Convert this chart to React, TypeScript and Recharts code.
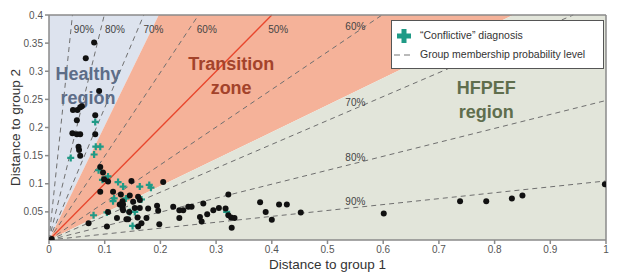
import {
  ComposedChart,
  Area,
  Scatter,
  XAxis,
  YAxis,
  CartesianGrid,
  ReferenceLine,
  Legend,
  Label,
} from 'recharts'

const xTicks = [0, 0.1, 0.2, 0.3, 0.4, 0.5, 0.6, 0.7, 0.8, 0.9, 1]
const yTicks = [0.05, 0.1, 0.15, 0.2, 0.25, 0.3, 0.35, 0.4]
const yMax = 0.4

// region boundaries (slope of line through origin)
const healthyEdge = 2.03
const hfpefEdge = 0.48

// probability level lines
const levels = ['60%', '70%', '80%', '90%']
const slopesBelow = [0.669, 0.425, 0.248, 0.105]
const slopesAbove = [1.49, 2.35, 4.03, 9.5]

const patients: [number, number][] = [
  [0.081, 0.351], [0.066, 0.323], [0.09, 0.265], [0.043, 0.231], [0.051, 0.231],
  [0.056, 0.236], [0.059, 0.238], [0.05, 0.213], [0.083, 0.222], [0.042, 0.19],
  [0.05, 0.188], [0.056, 0.188], [0.083, 0.188], [0.053, 0.166], [0.054, 0.16],
  [0.056, 0.15], [0.092, 0.13], [0.097, 0.12], [0.099, 0.108], [0.106, 0.104],
  [0.092, 0.086], [0.115, 0.086], [0.129, 0.081], [0.132, 0.069], [0.132, 0.057],
  [0.106, 0.05], [0.122, 0.039], [0.071, 0.03], [0.104, 0.024], [0.005, 0.002],
  [0.148, 0.105], [0.205, 0.103], [0.145, 0.079], [0.151, 0.068], [0.127, 0.063],
  [0.133, 0.063], [0.154, 0.057], [0.163, 0.057], [0.178, 0.056], [0.194, 0.061],
  [0.196, 0.052], [0.223, 0.059], [0.234, 0.053], [0.241, 0.053], [0.25, 0.059],
  [0.256, 0.059], [0.133, 0.053], [0.139, 0.037], [0.142, 0.037], [0.159, 0.04],
  [0.175, 0.039], [0.234, 0.039], [0.271, 0.041], [0.166, 0.03], [0.16, 0.024],
  [0.198, 0.028], [0.322, 0.081], [0.379, 0.067], [0.277, 0.065], [0.389, 0.05],
  [0.295, 0.053], [0.305, 0.057], [0.284, 0.046], [0.317, 0.056], [0.322, 0.044],
  [0.327, 0.04], [0.333, 0.039], [0.274, 0.033], [0.328, 0.022], [0.4, 0.036],
  [0.413, 0.063], [0.427, 0.063], [0.452, 0.049], [0.601, 0.047], [0.738, 0.069],
  [0.785, 0.069], [0.831, 0.074], [0.85, 0.079], [0.998, 0.099], [0.16, 0.077],
  [0.163, 0.071], [0.144, 0.05],
]

const conflictive: [number, number][] = [
  [0.083, 0.21], [0.039, 0.146], [0.084, 0.166], [0.092, 0.166], [0.081, 0.152],
  [0.089, 0.124], [0.096, 0.107], [0.106, 0.113], [0.117, 0.074], [0.08, 0.044],
  [0.124, 0.103], [0.133, 0.095], [0.163, 0.095], [0.18, 0.098], [0.183, 0.093],
  [0.138, 0.074], [0.166, 0.072], [0.145, 0.05], [0.154, 0.05], [0.15, 0.025],
  [0.319, 0.05], [0.104, 0.049], [0.115, 0.069],
]

const regionNames = [
  { key: 'healthy', lines: ['Healthy', 'region'], x: 0.07, y: 0.295 },
  { key: 'transition', lines: ['Transition', 'zone'], x: 0.327, y: 0.313 },
  { key: 'hfpef', lines: ['HFPEF', 'region'], x: 0.785, y: 0.27 },
]

const regionColors: Record<string, string> = {
  healthy: '#5d6d88',
  transition: '#a3432b',
  hfpef: '#5f6e4d',
}

const x1 = yMax / healthyEdge
const x2 = yMax / hfpefEdge
const regionData = [
  { x: 0, healthy: [0, yMax], transition: [0, 0], hfpef: [0, 0] },
  { x: x1, healthy: [yMax, yMax], transition: [hfpefEdge * x1, yMax], hfpef: [0, hfpefEdge * x1] },
  { x: x2, transition: [yMax, yMax], hfpef: [0, yMax] },
  { x: 1, hfpef: [0, yMax] },
]

const endOf = (s: number) => (s <= yMax ? { x: 1, y: s } : { x: yMax / s, y: yMax })

const lowerLabels = slopesBelow.map((s, i) => ({ x: 0.55, y: s * 0.55 + 0.011, text: levels[i], anchor: 'middle' }))
const upperLabels = [1, ...slopesAbove].map((s, i) => ({
  x: 0.39 / s,
  y: 0.375,
  text: i === 0 ? '50%' : levels[i - 1],
  anchor: 'start',
}))

const blackPts = patients.map(([x, y]) => ({ x, y }))
const tealPts = conflictive.map(([x, y]) => ({ x, y }))
const regionPts = regionNames.map((r) => ({ ...r }))

const font = '"Liberation Sans", Arial, sans-serif'

const Dot = (p: any) => <circle cx={p.cx} cy={p.cy} r={3} fill="#111" />

const Plus = (p: any) => (
  <path
    d={`M${p.cx - 3.5},${p.cy}H${p.cx + 3.5}M${p.cx},${p.cy - 3.5}V${p.cy + 3.5}`}
    stroke="#1f9a86"
    strokeWidth={2.2}
  />
)

const LevelText = (p: any) => (
  <text
    x={p.cx}
    y={p.cy}
    dx={p.payload.anchor === 'start' ? 2 : 0}
    textAnchor={p.payload.anchor}
    dominantBaseline="central"
    fontSize={10}
    fontFamily={font}
    fill="#444"
  >
    {p.payload.text}
  </text>
)

const RegionText = (p: any) => (
  <text
    x={p.cx}
    y={p.cy}
    textAnchor="middle"
    fontSize={18}
    fontWeight="bold"
    fontFamily={font}
    fill={regionColors[p.payload.key]}
  >
    <tspan x={p.cx} dy="0.35em">{p.payload.lines[0]}</tspan>
    <tspan x={p.cx} dy="1.3em">{p.payload.lines[1]}</tspan>
  </text>
)

const LegendBox = () => (
  <div
    style={{
      boxSizing: 'border-box',
      width: 213,
      height: 49,
      background: '#fff',
      border: '1.5px solid #555',
      fontFamily: font,
      fontSize: 10.5,
      color: '#333',
      padding: '5px 0 0 2px',
      lineHeight: '19px',
    }}
  >
    <div style={{ display: 'flex', alignItems: 'center' }}>
      <svg width={26} height={16}>
        <path d="M3,8H17M10,1V15" stroke="#1f9a86" strokeWidth={5} />
      </svg>
      <span>“Conflictive” diagnosis</span>
    </div>
    <div style={{ display: 'flex', alignItems: 'center' }}>
      <svg width={26} height={16}>
        <line x1={0} y1={8} x2={20} y2={8} stroke="#777" strokeWidth={1.2} strokeDasharray="6 4" />
      </svg>
      <span>Group membership probability level</span>
    </div>
  </div>
)

export default function App() {
  return (
    <div style={{ position: 'absolute', left: 0, top: 0, background: '#fff' }}>
      <ComposedChart
        width={617}
        height={272}
        data={regionData}
        margin={{ top: 15, right: 11, bottom: 0, left: 0 }}
      >
        <XAxis
          dataKey="x"
          type="number"
          domain={[0, 1]}
          ticks={xTicks}
          allowDataOverflow
          height={32}
          tickSize={4}
          tickMargin={2}
          stroke="#8a8a8a"
          strokeWidth={1.5}
          tick={{ fontSize: 10, fill: '#555', fontFamily: font }}
          tickFormatter={(v) => String(v)}
        >
          <Label
            value="Distance to group 1"
            position="insideBottom"
            offset={3}
            style={{ fontSize: 13.5, fill: '#333', fontFamily: font }}
          />
        </XAxis>
        <YAxis
          dataKey="y"
          type="number"
          domain={[0, yMax]}
          ticks={yTicks}
          allowDataOverflow
          width={49}
          tickSize={4}
          tickMargin={2}
          stroke="#8a8a8a"
          strokeWidth={1.5}
          tick={{ fontSize: 10, fill: '#555', fontFamily: font }}
          tickFormatter={(v) => String(v)}
        >
          <Label
            value="Distance to group 2"
            angle={-90}
            position="insideLeft"
            offset={15}
            style={{ fontSize: 13.5, fill: '#333', fontFamily: font, textAnchor: 'middle' }}
          />
        </YAxis>

        <Area dataKey="healthy" type="linear" stroke="none" fill="#dde3ee" fillOpacity={1} dot={false} activeDot={false} isAnimationActive={false} />
        <Area dataKey="transition" type="linear" stroke="none" fill="#f5b299" fillOpacity={1} dot={false} activeDot={false} isAnimationActive={false} />
        <Area dataKey="hfpef" type="linear" stroke="none" fill="#e2e5da" fillOpacity={1} dot={false} activeDot={false} isAnimationActive={false} />

        <CartesianGrid stroke="#ffffff" strokeOpacity={0.45} strokeWidth={1} />

        {[...slopesBelow, ...slopesAbove].map((s) => (
          <ReferenceLine
            key={s}
            segment={[{ x: 0, y: 0 }, endOf(s)]}
            stroke="#6f6f6f"
            strokeWidth={1}
            strokeDasharray="5 4"
            ifOverflow="visible"
          />
        ))}
        <ReferenceLine segment={[{ x: 0, y: 0 }, endOf(1)]} stroke="#e8462d" strokeWidth={1.3} ifOverflow="visible" />

        <ReferenceLine y={yMax} stroke="#8a8a8a" strokeWidth={1.5} ifOverflow="visible" />
        <ReferenceLine x={1} stroke="#8a8a8a" strokeWidth={1.5} ifOverflow="visible" />

        <Scatter data={regionPts} dataKey="y" shape={RegionText} isAnimationActive={false} />
        <Scatter data={[...lowerLabels, ...upperLabels]} dataKey="y" shape={LevelText} isAnimationActive={false} />
        <Scatter data={tealPts} dataKey="y" shape={Plus} isAnimationActive={false} />
        <Scatter data={blackPts} dataKey="y" shape={Dot} isAnimationActive={false} />

        <Legend
          layout="vertical"
          verticalAlign="middle"
          align="center"
          wrapperStyle={{ left: 391, top: 20, width: 213 }}
          content={LegendBox}
        />
      </ComposedChart>
    </div>
  )
}
